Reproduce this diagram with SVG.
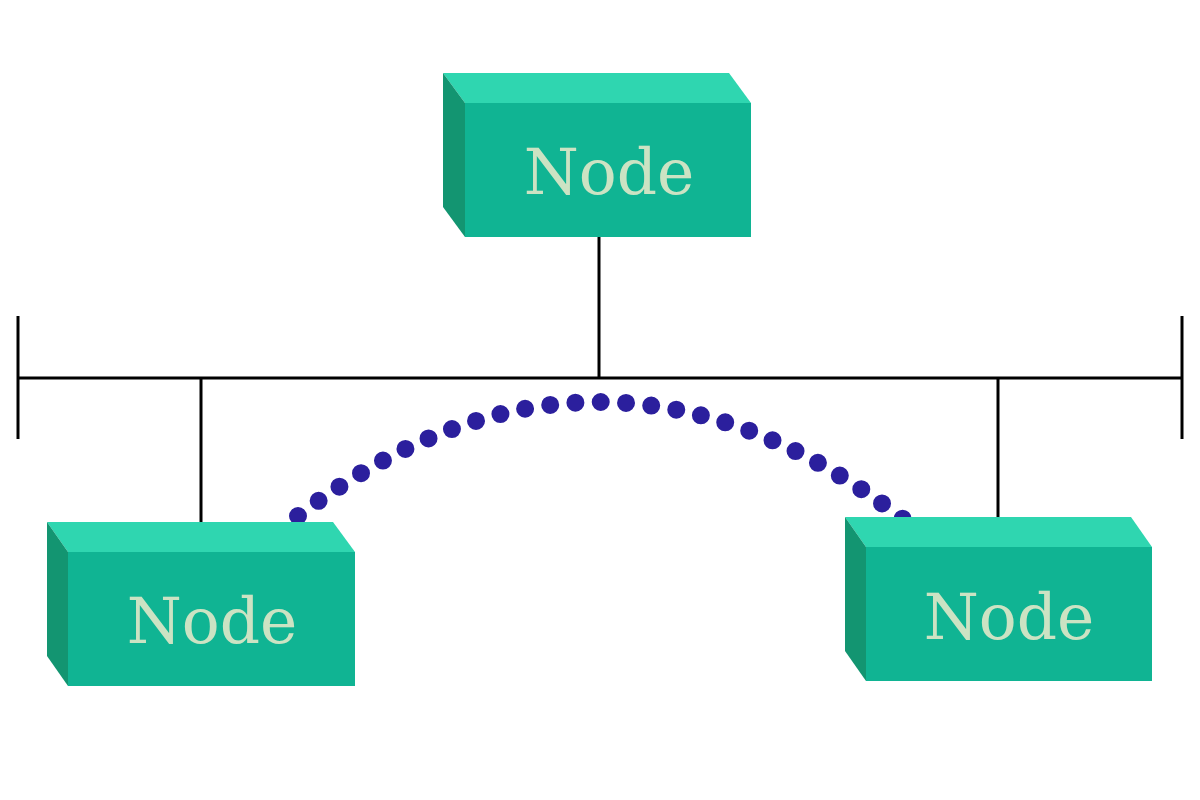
<svg xmlns="http://www.w3.org/2000/svg" width="1200" height="800" viewBox="0 0 1200 800">
<style>
.top{fill:#2fd6b0}
.front{fill:#10b493}
.side{fill:#139571}
.lbl{font-family:"DejaVu Serif","Liberation Serif",serif;font-size:63px;fill:#cce3c3;text-anchor:middle}
.ln{stroke:#000;stroke-width:3;fill:none}
.dots{stroke:#2b1f9d;stroke-width:18;stroke-linecap:round;stroke-dasharray:0 1;fill:none}
</style>
<rect width="1200" height="800" fill="#fff"/>
<g id="connectors">
<line class="ln" x1="18" y1="378" x2="1182" y2="378"/>
<line class="ln" x1="18" y1="316" x2="18" y2="439"/>
<line class="ln" x1="1182" y1="316" x2="1182" y2="439"/>
<line class="ln" x1="599" y1="237" x2="599" y2="378"/>
<line class="ln" x1="201" y1="378" x2="201" y2="522"/>
<line class="ln" x1="998" y1="378" x2="998" y2="517"/>
<path class="dots" pathLength="26.02" d="M298,516 Q600,286.5 903,519"/>
</g>
<g id="node-top">
<polygon class="top" points="443,73 729,73 751,103 465,103"/>
<polygon class="side" points="443,73 465,103 465,237 443,207"/>
<rect class="front" x="465" y="103" width="286" height="134"/>
<text class="lbl" x="609" y="194">Node</text>
</g>
<g id="node-left">
<polygon class="top" points="47,522 333,522 355,552 68,552"/>
<polygon class="side" points="47,522 68,552 68,686 47,656"/>
<rect class="front" x="68" y="552" width="287" height="134"/>
<text class="lbl" x="212" y="643">Node</text>
</g>
<g id="node-right">
<polygon class="top" points="845,517 1131,517 1152,547 866,547"/>
<polygon class="side" points="845,517 866,547 866,681 845,651"/>
<rect class="front" x="866" y="547" width="286" height="134"/>
<text class="lbl" x="1009" y="639">Node</text>
</g>
</svg>
